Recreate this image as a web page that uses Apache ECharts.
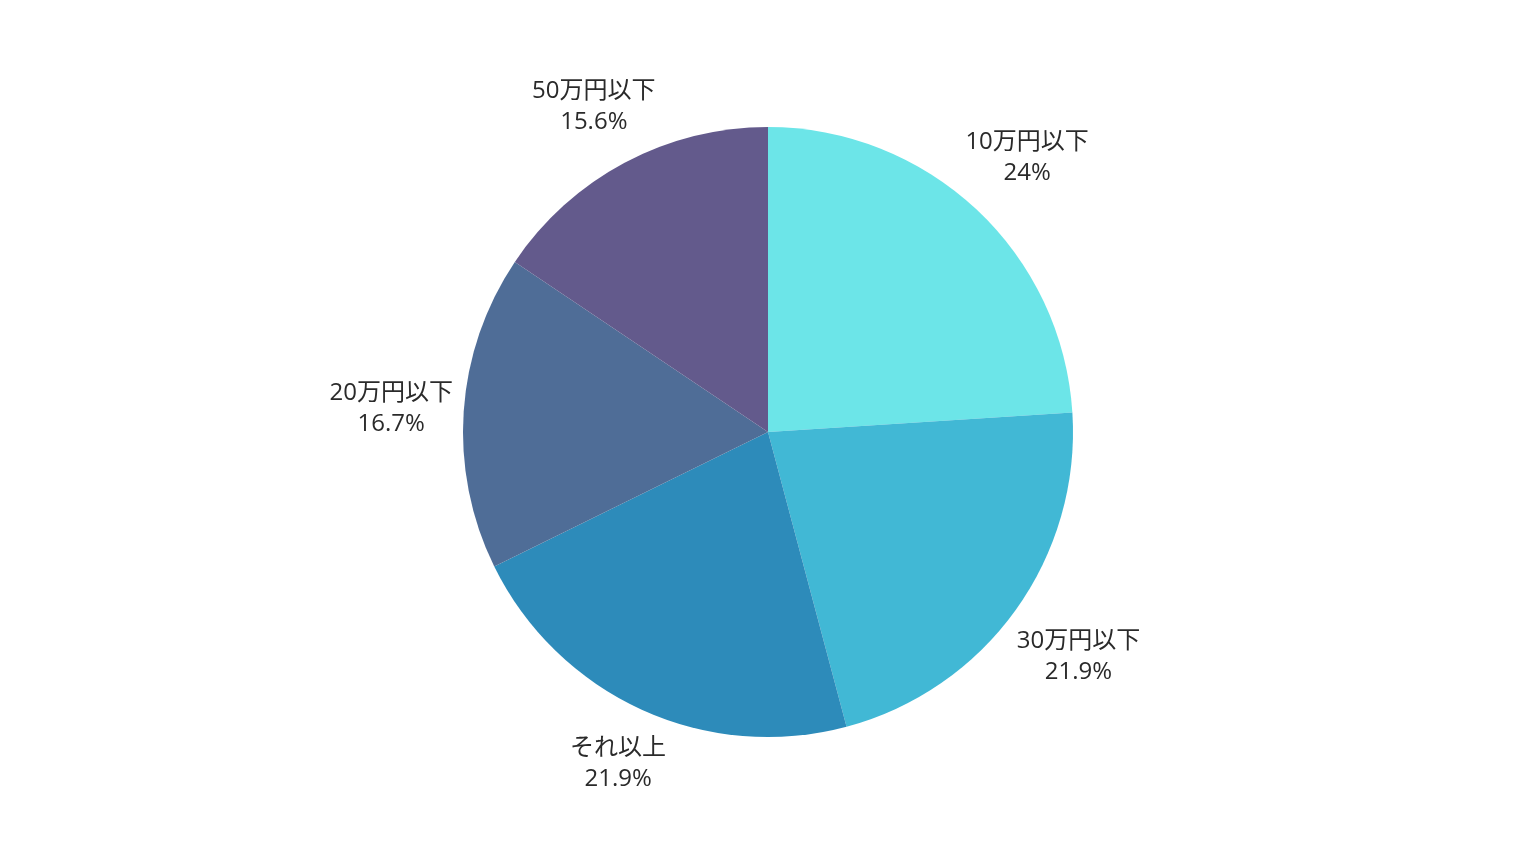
<!DOCTYPE html>
<html>
<head>
<meta charset="utf-8">
<script src="https://cdn.jsdelivr.net/npm/echarts@6/dist/echarts.min.js"></script>
<style>
html,body{margin:0;padding:0;background:#fff;}
#chart{width:1536px;height:864px;}
</style>
</head>
<body>
<div id="chart"></div>
<script>
const categories = ['10万円以下', '30万円以下', 'それ以上', '20万円以下', '50万円以下'];
const values = [24, 21.9, 21.9, 16.7, 15.6];
const colors = ['#6ce5e8', '#41b8d5', '#2d8bba', '#4f6d97', '#635a8c'];

const CX = 768, CY = 432, R = 305, GAP = 9, DY = 2;
const total = values.reduce((a, b) => a + b, 0);
let acc = 0;
const mids = values.map(v => { const m = (acc + v / 2) / total; acc += v; return m * 2 * Math.PI; });

const data = categories.map((c, i) => ({ name: c, value: values[i], itemStyle: { color: colors[i] } }));

const chart = echarts.init(document.getElementById('chart'), null, { renderer: 'canvas' });
chart.setOption({
  backgroundColor: '#ffffff',
  animation: false,
  series: [
    {
      type: 'pie',
      center: [CX, CY],
      radius: [0, R],
      startAngle: 90,
      clockwise: true,
      silent: true,
      itemStyle: { borderWidth: 0 },
      labelLine: { show: false },
      label: {
        show: true,
        position: 'inside',
        formatter: '{b}\n{c}%',
        fontSize: 24,
        lineHeight: 31,
        color: '#2a2a2a',
        fontFamily: '"Open Sans", "Noto Sans CJK JP", sans-serif',
        align: 'center',
        verticalAlign: 'middle'
      },
      labelLayout: function (p) {
        const th = mids[p.dataIndex];
        const s = Math.sin(th), c = Math.cos(th);
        const w = p.labelRect.width, h = p.labelRect.height;
        const D = R + GAP + Math.abs(w / 2 * s) + Math.abs(h / 2 * c);
        return { x: CX + D * s, y: CY - D * c + DY };
      },
      data: data
    }
  ]
});
</script>
</body>
</html>
